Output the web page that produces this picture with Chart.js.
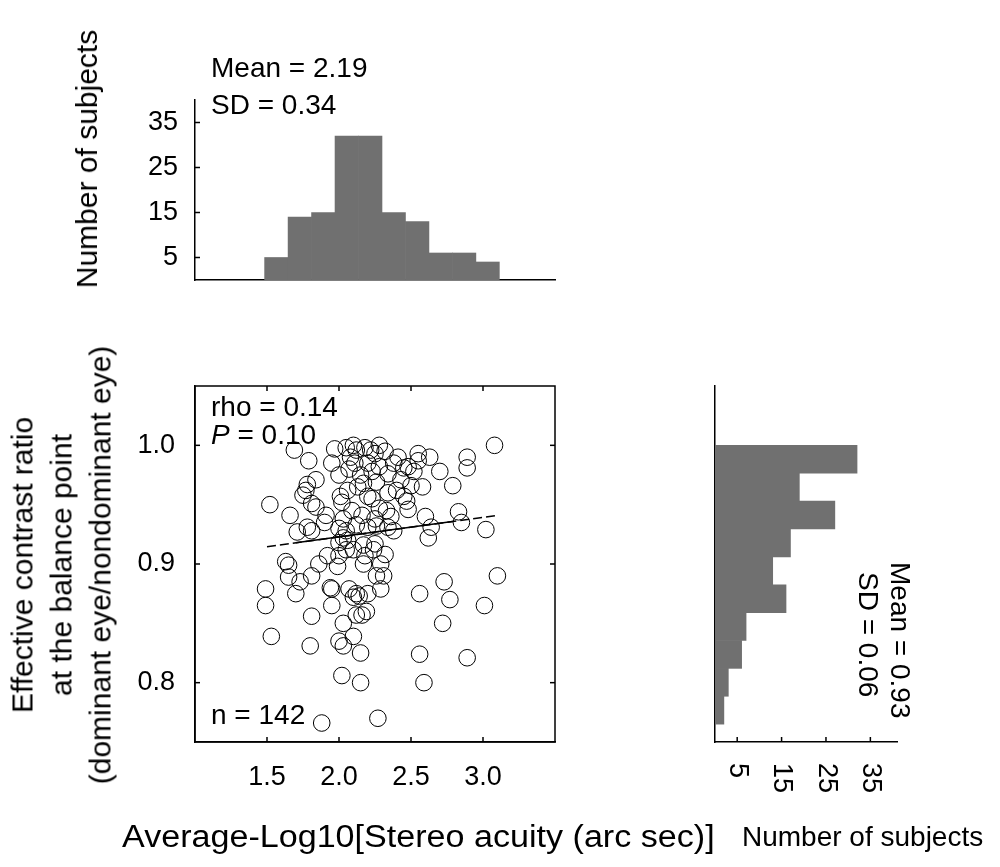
<!DOCTYPE html>
<html>
<head>
<meta charset="utf-8">
<script src="https://cdn.jsdelivr.net/npm/chart.js@4.4.1/dist/chart.umd.min.js"></script>
<style>
html, body { margin: 0; padding: 0; background: #fff; }
body { width: 1000px; height: 867px; position: relative; overflow: hidden;
       font-family: "Liberation Sans", Arial, Helvetica, sans-serif; color: #000; }
canvas { position: absolute; }
.t { position: absolute; white-space: nowrap; line-height: 1; font-size: 28px; }
.rot { position: absolute; white-space: nowrap; text-align: center; font-size: 30px; line-height: 1;
       transform: translate(-50%, -50%) rotate(-90deg); }
.cw { position: absolute; white-space: nowrap; font-size: 28px; line-height: 1;
      transform-origin: 0 0; transform: rotate(90deg); }
</style>
</head>
<body>
<canvas id="topHist" width="600" height="320" style="left:0;top:0"></canvas>
<canvas id="scatter" width="600" height="480" style="left:0;top:330px"></canvas>
<canvas id="sideHist" width="400" height="537" style="left:600px;top:330px"></canvas>

<div class="rot" style="left:87px;top:159px">Number of subjects</div>
<div class="t" style="left:211px;top:54px">Mean = 2.19</div>
<div class="t" style="left:211px;top:91px">SD = 0.34</div>

<div class="rot" style="left:61px;top:565px;line-height:39px">Effective contrast ratio<br>at the balance point<br>(dominant eye/nondominant eye)</div>
<div class="t" style="left:211px;top:393px">rho = 0.14</div>
<div class="t" style="left:211px;top:421px"><i>P</i> = 0.10</div>
<div class="t" style="left:211px;top:701px">n = 142</div>

<div class="cw" style="left:914px;top:562px">Mean = 0.93</div>
<div class="cw" style="left:882px;top:572px">SD = 0.06</div>

<div class="t" style="left:122px;top:821px;font-size:31px;transform-origin:0 0;transform:scaleX(1.1)">Average-Log10[Stereo acuity (arc sec)]</div>
<div class="t" style="left:742px;top:823px">Number of subjects</div>

<script>
// top histogram: stereo acuity bins
const acuityBins = [1.565, 1.728, 1.891, 2.054, 2.217, 2.380, 2.543, 2.706, 2.869, 3.032];
const acuityCounts = [5, 14, 15, 32, 32, 15, 13, 6, 6, 4];

// side histogram: contrast ratio bins (bottom to top)
const ratioBins = [0.7768, 0.8003, 0.8238, 0.8473, 0.8708, 0.8943, 0.9178, 0.9413, 0.9648, 0.9883];
const ratioCounts = [2, 3, 6, 7, 16, 13, 17, 27, 19, 32];

// scatter, one entry per subject
const acuity = [
  1.88, 2.27, 2.02, 2.15, 2.59, 2.15, 2.56, 2.89, 1.80, 2.03,
  2.00, 1.53, 2.10, 2.03, 2.72, 2.16, 2.12, 1.81, 2.19, 1.49,
  1.95, 3.01, 2.77, 1.70, 2.56, 2.12, 2.14, 2.10, 2.20, 1.49,
  1.94, 1.95, 2.07, 2.29, 1.65, 1.73, 1.81, 2.26, 2.31, 2.73,
  3.10, 1.65, 1.86, 1.99, 2.17, 2.29, 1.63, 2.00, 1.92, 2.18,
  2.32, 1.71, 1.81, 2.05, 2.38, 2.00, 2.17, 2.25, 2.24, 2.05,
  2.10, 2.03, 2.06, 2.62, 3.02, 1.78, 2.00, 2.20, 2.26, 2.34,
  2.64, 1.66, 1.91, 2.16, 2.36, 2.83, 2.28, 1.84, 2.48, 1.81,
  1.52, 2.02, 2.47, 2.01, 2.20, 2.34, 2.45, 2.13, 2.26, 2.43,
  2.58, 2.79, 1.78, 1.84, 1.77, 2.15, 3.08, 2.10, 2.28, 1.97,
  2.12, 1.69, 2.22, 2.41, 2.63, 2.89, 2.89, 1.79, 2.45, 2.55,
  2.07, 2.23, 2.34, 2.52, 1.75, 1.95, 1.90, 2.05, 2.08, 2.11,
  2.00, 2.06, 2.09, 2.12, 2.03, 2.18, 2.25, 2.20, 2.28, 2.17,
  2.23, 2.25, 2.32, 2.38, 2.40, 2.33, 2.48, 2.55, 2.50, 2.60,
  2.70, 2.85
];
const ratio = [
  0.766, 0.770, 0.806, 0.800, 0.800, 0.825, 0.824, 0.821, 0.831, 0.831,
  0.835, 0.839, 0.839, 0.850, 0.850, 0.857, 0.857, 0.856, 0.860, 0.865,
  0.865, 0.865, 0.870, 0.875, 0.875, 0.875, 0.873, 0.872, 0.875, 0.879,
  0.880, 0.879, 0.879, 0.879, 0.889, 0.885, 0.890, 0.890, 0.890, 0.885,
  0.890, 0.899, 0.900, 0.898, 0.900, 0.900, 0.902, 0.907, 0.907, 0.907,
  0.908, 0.927, 0.928, 0.928, 0.928, 0.918, 0.916, 0.917, 0.912, 0.912,
  0.912, 0.922, 0.920, 0.922, 0.929, 0.931, 0.930, 0.931, 0.932, 0.931,
  0.931, 0.941, 0.941, 0.941, 0.940, 0.944, 0.947, 0.948, 0.946, 0.951,
  0.950, 0.952, 0.953, 0.957, 0.957, 0.960, 0.957, 0.965, 0.969, 0.971,
  0.965, 0.966, 0.967, 0.971, 0.962, 0.975, 1.000, 1.000, 1.000, 0.997,
  0.996, 0.996, 0.996, 0.990, 0.990, 0.990, 0.981, 0.987, 0.981, 0.987,
  0.980, 0.978, 0.976, 0.978, 0.958, 0.985, 0.935, 0.998, 0.990, 0.985,
  0.975, 0.962, 0.945, 0.933, 0.938, 0.998, 0.993, 0.985, 0.982, 0.968,
  0.955, 0.938, 0.995, 0.985, 0.962, 0.945, 0.982, 0.993, 0.966, 0.940,
  0.978, 0.935
];

// fitted line: dashed over the full range, solid in the middle
const fitX = [1.50, 3.09];
const fitY = [0.9146, 0.9407];
const fitSolidX = [1.70, 2.80];
const fitSolidY = [0.918, 0.936];

// tick values
const countTicks = [5, 15, 25, 35];
const acuityTicks = [1.5, 2.0, 2.5, 3.0];
const ratioTicks = [0.8, 0.9, 1.0];

const BAR_GRAY = '#707070';
const TICK_LEN = 5;

Chart.defaults.font.family = '"Liberation Sans", Arial, Helvetica, sans-serif';
Chart.defaults.color = '#000';
Chart.defaults.animation = false;
Chart.defaults.responsive = false;
Chart.defaults.plugins.legend.display = false;
Chart.defaults.plugins.tooltip.enabled = false;

const setTicks = vals => s => { s.ticks = vals.map(v => ({ value: v })); };
const noGrid = { display: false, drawTicks: false };
const blackBorder = { color: '#000', width: 1.5 };

// inward tick marks (and optional full box) drawn from the scales
function innerTicks(sides, box) {
  return {
    id: 'innerTicks',
    afterDraw(chart) {
      const { ctx, chartArea: a } = chart;
      ctx.save();
      ctx.strokeStyle = '#000';
      ctx.lineWidth = 1.5;
      if (box) ctx.strokeRect(a.left, a.top, a.right - a.left, a.bottom - a.top);
      sides.forEach(sd => {
        const [id, edge] = sd.split(':');
        const s = chart.scales[id];
        s.ticks.forEach(t => {
          const p = s.getPixelForValue(t.value);
          ctx.beginPath();
          if (edge === 'left') { ctx.moveTo(a.left, p); ctx.lineTo(a.left + TICK_LEN, p); }
          if (edge === 'right') { ctx.moveTo(a.right, p); ctx.lineTo(a.right - TICK_LEN, p); }
          if (edge === 'bottom') { ctx.moveTo(p, a.bottom); ctx.lineTo(p, a.bottom - TICK_LEN); }
          if (edge === 'top') { ctx.moveTo(p, a.top); ctx.lineTo(p, a.top + TICK_LEN); }
          ctx.stroke();
        });
      });
      ctx.restore();
    }
  };
}

// count labels of the side histogram, turned a quarter clockwise
const sideLabels = {
  id: 'sideLabels',
  afterDraw(chart) {
    const { ctx, chartArea: a } = chart;
    const s = chart.scales.x;
    ctx.save();
    ctx.fillStyle = '#000';
    ctx.font = '27px "Liberation Sans", Arial, sans-serif';
    ctx.textAlign = 'left';
    ctx.textBaseline = 'middle';
    s.ticks.forEach(t => {
      ctx.save();
      ctx.translate(s.getPixelForValue(t.value), a.bottom + 21);
      ctx.rotate(Math.PI / 2);
      ctx.fillText(String(t.value), 0, 0);
      ctx.restore();
    });
    ctx.restore();
  }
};

// top histogram
new Chart(document.getElementById('topHist'), {
  type: 'bar',
  data: {
    datasets: [{
      data: acuityBins.map((b, i) => ({ x: b, y: acuityCounts[i] })),
      backgroundColor: BAR_GRAY, borderWidth: 0,
      barPercentage: 1, categoryPercentage: 1
    }]
  },
  options: {
    layout: { padding: { top: 100, right: 45, left: 0, bottom: 20 } },
    scales: {
      x: { type: 'linear', min: 1.0, max: 3.5, offset: false,
           afterBuildTicks: setTicks(acuityTicks),
           ticks: { display: false }, grid: noGrid, border: blackBorder,
           afterFit: s => { s.height = 20; } },
      y: { type: 'linear', min: 0, max: 40,
           afterBuildTicks: setTicks(countTicks),
           ticks: { padding: 17, font: { size: 27 } },
           grid: noGrid, border: blackBorder,
           afterFit: s => { s.width = 195; } }
    }
  },
  plugins: [innerTicks(['y:left'], false)]
});

// scatter
new Chart(document.getElementById('scatter'), {
  type: 'scatter',
  data: {
    datasets: [
      { data: acuity.map((v, i) => ({ x: v, y: ratio[i] })),
        pointStyle: 'circle', pointRadius: 8.3, pointHoverRadius: 8.3,
        borderColor: '#000', borderWidth: 1, backgroundColor: 'rgba(0,0,0,0)' },
      { type: 'line', data: fitX.map((v, i) => ({ x: v, y: fitY[i] })),
        showLine: true, borderColor: '#000', borderWidth: 1.5, borderDash: [9, 4],
        pointRadius: 0, fill: false },
      { type: 'line', data: fitSolidX.map((v, i) => ({ x: v, y: fitSolidY[i] })),
        showLine: true, borderColor: '#000', borderWidth: 1.5,
        pointRadius: 0, fill: false }
    ]
  },
  options: {
    layout: { padding: { top: 56, right: 45, left: 0, bottom: 0 } },
    scales: {
      x: { type: 'linear', min: 1.0, max: 3.5,
           afterBuildTicks: setTicks(acuityTicks),
           ticks: { padding: 19, font: { size: 27 }, maxRotation: 0, callback: v => v.toFixed(1) },
           grid: noGrid, border: blackBorder,
           afterFit: s => { s.height = 68; } },
      y: { type: 'linear', min: 0.75, max: 1.05,
           afterBuildTicks: setTicks(ratioTicks),
           ticks: { padding: 20, font: { size: 27 }, callback: v => v.toFixed(1) },
           grid: noGrid, border: blackBorder,
           afterFit: s => { s.width = 195; } }
    }
  },
  plugins: [innerTicks(['x:bottom', 'x:top', 'y:left', 'y:right'], true)]
});

// side histogram
new Chart(document.getElementById('sideHist'), {
  type: 'bar',
  data: {
    datasets: [{
      data: ratioBins.map((b, i) => ({ x: ratioCounts[i], y: b })),
      backgroundColor: BAR_GRAY, borderWidth: 0,
      barPercentage: 1, categoryPercentage: 1
    }]
  },
  options: {
    indexAxis: 'y',
    layout: { padding: { top: 56, right: 103, left: 0, bottom: 0 } },
    scales: {
      y: { type: 'linear', min: 0.75, max: 1.05, offset: false,
           afterBuildTicks: setTicks(ratioTicks),
           ticks: { display: false }, grid: noGrid, border: blackBorder,
           afterFit: s => { s.width = 115; } },
      x: { type: 'linear', min: 0, max: 41,
           afterBuildTicks: setTicks(countTicks),
           ticks: { display: false }, grid: noGrid, border: blackBorder,
           afterFit: s => { s.height = 125; } }
    }
  },
  plugins: [innerTicks(['x:bottom'], false), sideLabels]
});
</script>
</body>
</html>
